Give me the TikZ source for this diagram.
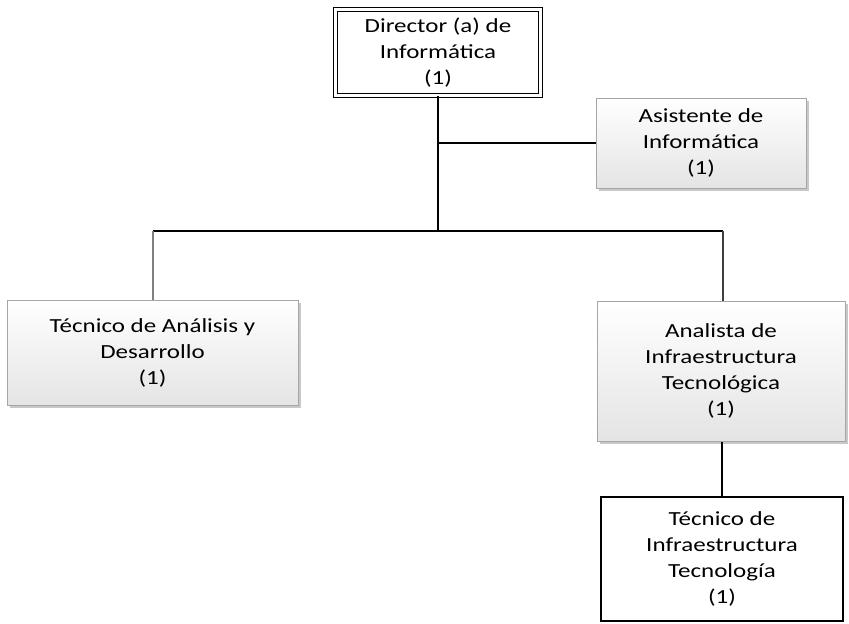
\documentclass[tikz,border=0pt]{standalone}
\usepackage{fontspec}
\setmainfont{Carlito}[FakeStretch=1.25]
\usetikzlibrary{shadows}
\definecolor{boxborder}{HTML}{A6A6A6}
\definecolor{boxbottom}{HTML}{E4E4E4}
\definecolor{shadowgray}{HTML}{C8C8C8}
\tikzset{
  x=1pt, y=-1pt,
  txt/.style={align=center, font=\fontsize{20}{26}\selectfont, inner sep=0pt},
  graybox/.style={txt, rectangle, draw=boxborder, line width=1pt,
    top color=white, bottom color=boxbottom,
    drop shadow={shadow xshift=3pt, shadow yshift=-3pt, fill=shadowgray, opacity=1}},
  blackbox/.style={txt, rectangle, draw=black, line width=1.5pt, fill=white},
  dirbox/.style={txt, rectangle, draw=black, double=white, double distance=2.5pt, line width=1.3pt, fill=white},
  link/.style={draw=black, line width=2pt},
  linkgray/.style={draw=gray, line width=1.5pt},
  linkdark/.style={draw=black!75, line width=1.5pt}
}
\begin{document}
\begin{tikzpicture}
\useasboundingbox (0,0) rectangle (849,624);
\node[dirbox, minimum width=205pt, minimum height=86pt] (dir) at (438,52.5)
  {Director (a) de\\Informática\\(1)};
\node[graybox, minimum width=210pt, minimum height=90pt] (asis) at (701,143)
  {Asistente de\\Informática\\(1)};
\node[graybox, minimum width=291pt, minimum height=105pt] (tec) at (152.5,352.5)
  {Técnico de Análisis y\\Desarrollo\\(1)};
\node[graybox, minimum width=248pt, minimum height=140pt] (ana) at (721,371)
  {Analista de\\Infraestructura\\Tecnológica\\(1)};
\node[blackbox, minimum width=242pt, minimum height=124pt] (tinf) at (722,559)
  {Técnico de\\Infraestructura\\Tecnología\\(1)};
\coordinate (j1) at (438,143);
\coordinate (j2) at (438,231);
\coordinate (jl) at (153,231);
\coordinate (jr) at (723,231);
\draw[link] (dir.south) -- (j2);
\draw[link] (j1) -- (asis.west);
\draw[link] (jl) -- (jr);
\draw[linkgray] (jl) -- (jl |- tec.north);
\draw[linkdark] (jr) -- (jr |- ana.north);
\draw[link] (ana.south -| tinf.north) -- (tinf.north);
\end{tikzpicture}
\end{document}
